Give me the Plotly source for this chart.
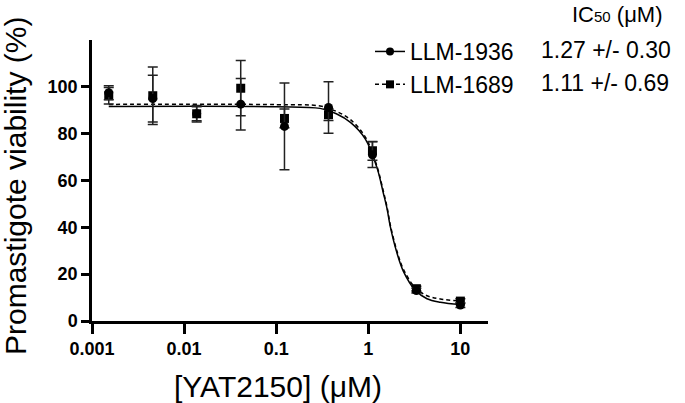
import plotly.graph_objects as go

# concentrations (uM) of the 3-fold dilution series
conc = [0.00152, 0.00457, 0.0137, 0.0412, 0.123, 0.370, 1.11, 3.33, 10]

# mean viability (%) and error (+/-) per compound
llm1936_mean = [97.5, 95.0, 88.5, 92.6, 83.1, 91.2, 71.0, 13.0, 6.8]
llm1936_err = [3.0, 10.0, 3.5, 11.0, 18.5, 11.0, 5.5, 1.0, 1.0]
llm1689_mean = [96.2, 96.2, 88.5, 99.4, 86.5, 88.1, 72.7, 13.8, 8.5]
llm1689_err = [3.5, 12.3, 3.0, 11.8, 4.0, 2.5, 4.0, 1.0, 1.0]

# fitted dose-response curves
fit_x = [0.00152, 0.1, 0.3, 0.45, 0.64, 0.93, 1.24, 1.45, 1.6, 1.73, 2.05, 2.42, 3.24, 4.34, 6.06, 10]
fit_1936 = [91.6, 91.5, 90.8, 88.5, 84.8, 77.7, 65.6, 55.0, 47.9, 40.5, 29.0, 21.0, 13.1, 9.5, 8.0, 7.0]
fit_1689 = [92.5, 92.4, 91.8, 89.5, 86.0, 78.5, 66.2, 55.8, 48.6, 41.2, 29.8, 21.9, 14.2, 10.8, 9.4, 8.5]

names = ["LLM-1936", "LLM-1689"]
ic50_text = ["1.27 +/- 0.30", "1.11 +/- 0.69"]

x_ticks = [0.001, 0.01, 0.1, 1, 10]
x_ticklabels = ["0.001", "0.01", "0.1", "1", "10"]
y_ticks = [0, 20, 40, 60, 80, 100]

FONT = "Liberation Sans, Arial, sans-serif"
DASH = "4px,3px"
W, H = 685, 403
M = dict(l=92, r=197, t=40, b=82, autoexpand=False)


# pixel -> paper coords
def px_x(p):
    return (p - M["l"]) / (W - M["l"] - M["r"])


def px_y(p):
    return (H - M["b"] - p) / (H - M["t"] - M["b"])


fig = go.Figure()

# fitted curves
fig.add_trace(go.Scatter(x=fit_x, y=fit_1689, mode="lines", line=dict(color="black", width=1.5, dash=DASH, shape="spline"),
                         showlegend=False, hoverinfo="skip"))
fig.add_trace(go.Scatter(x=fit_x, y=fit_1936, mode="lines", line=dict(color="black", width=1.5, shape="spline"),
                         showlegend=False, hoverinfo="skip"))

err_style = dict(type="data", thickness=1.5, width=5, color="#222")

fig.add_trace(go.Scatter(x=conc, y=llm1689_mean, mode="markers", name=names[1],
                         marker=dict(symbol="square", size=9, color="black"),
                         error_y=dict(array=llm1689_err, **err_style), showlegend=False))
fig.add_trace(go.Scatter(x=conc, y=llm1936_mean, mode="markers", name=names[0],
                         marker=dict(symbol="circle", size=9, color="black"),
                         error_y=dict(array=llm1936_err, **err_style), showlegend=False))

# legend-only entries (line + marker)
fig.add_trace(go.Scatter(x=[None], y=[None], mode="lines+markers", name=names[0],
                         line=dict(color="black", width=1.5), marker=dict(symbol="circle", size=8, color="black")))
fig.add_trace(go.Scatter(x=[None], y=[None], mode="lines+markers", name=names[1],
                         line=dict(color="black", width=1.5, dash=DASH), marker=dict(symbol="square", size=8, color="black")))

# IC50 column
fig.add_annotation(x=px_x(617), y=px_y(14), xref="paper", yref="paper", showarrow=False,
                   xanchor="center", yanchor="middle",
                   text='IC<span style="font-size:15px">50</span> (μM)', font=dict(family=FONT, size=22, color="black"))
for i, t in enumerate(ic50_text):
    fig.add_annotation(x=px_x(539), y=px_y(50 + 33 * i), xref="paper", yref="paper", showarrow=False,
                       xanchor="left", yanchor="middle", text=t, font=dict(family=FONT, size=23, color="black"))

# axis titles
fig.add_annotation(x=px_x(278), y=px_y(386), xref="paper", yref="paper", showarrow=False,
                   xanchor="center", yanchor="middle", text="[YAT2150] (μM)",
                   font=dict(family=FONT, size=30, color="black"))
fig.add_annotation(x=px_x(15), y=px_y(186), xref="paper", yref="paper", showarrow=False, textangle=-90,
                   xanchor="center", yanchor="middle", text="Promastigote viability (%)",
                   font=dict(family=FONT, size=30, color="black"))

axis_common = dict(showline=True, linecolor="black", linewidth=2.5, ticks="outside", tickwidth=2.5,
                   tickcolor="black", showgrid=False, zeroline=False, mirror=False,
                   tickfont=dict(family=FONT, size=18, color="black", weight="bold"))

fig.update_xaxes(type="log", range=[-3, 1.3], tickvals=x_ticks, ticktext=x_ticklabels, ticklen=10, **axis_common)
fig.update_yaxes(range=[0, 120], tickvals=y_ticks, ticklen=8, **axis_common)

fig.update_layout(
    width=W, height=H, margin=M,
    plot_bgcolor="white", paper_bgcolor="white",
    font=dict(family=FONT, color="black"),
    legend=dict(xref="container", yref="container", x=370 / W, y=1 - 30 / H, xanchor="left", yanchor="top",
                font=dict(family=FONT, size=23, color="black"), bgcolor="rgba(0,0,0,0)", tracegroupgap=0),
)

# drop the default body margin so the figure sits at the window's top-left corner
fig.write_html("out.html", config={"displayModeBar": False},
               post_script="document.body.style.margin='0';")
